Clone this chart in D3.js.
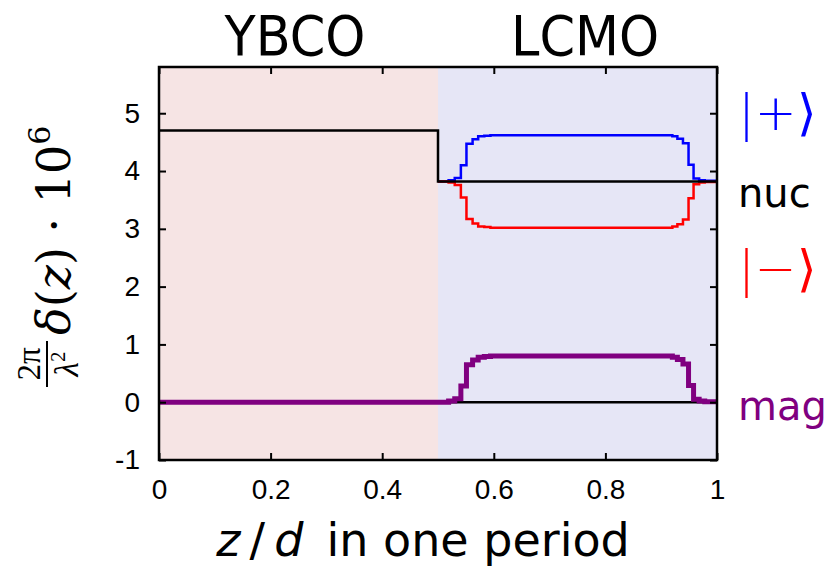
<!DOCTYPE html>
<html><head><meta charset="utf-8">
<script src="https://cdn.jsdelivr.net/npm/d3@7/dist/d3.min.js"></script>
<style>body{margin:0;background:#fff}svg{display:block}</style>
</head><body>
<svg id="c" width="834" height="571"></svg>
<script>
// ---- data ----
const regions = [
  {name: "YBCO", from: 0, to: 0.5, color: "#f6e4e4"},
  {name: "LCMO", from: 0.5, to: 1, color: "#e6e6f6"}
];
const nucEdges = [0, 0.5, 1];
const nucValues = [4.7, 3.82];
const magEdges = [0.5, 0.519, 0.530, 0.541, 0.551, 0.562, 0.572, 0.583, 0.594, 0.920, 0.929, 0.939, 0.949, 0.958, 0.968, 0.978, 1.0];
const magValues = [0, 0.02, 0.06, 0.28, 0.65, 0.73, 0.78, 0.79, 0.80, 0.78, 0.74, 0.66, 0.29, 0.05, 0.02, 0.01];
const xTicks = [0, 0.2, 0.4, 0.6, 0.8, 1];
const xTickLabels = ["0", "0.2", "0.4", "0.6", "0.8", "1"];
const yTicks = [-1, 0, 1, 2, 3, 4, 5];
const yTickLabels = ["-1", "0", "1", "2", "3", "4", "5"];
const legendItems = [
  {label: "|+\u27E9", value: 4.95, color: "#0000ff", size: 50},
  {label: "nuc", value: 3.62, color: "#000000", size: 40},
  {label: "|\u2212\u27E9", value: 2.25, color: "#ff0000", size: 50},
  {label: "mag", value: -0.07, color: "#800080", size: 40}
];

// ---- layout ----
const L = 159, R = 717, T = 67, B = 460;
const svg = d3.select("#c");
const x = d3.scaleLinear().domain([0, 1]).range([L, R]);
const y = d3.scaleLinear().domain([-1, 5.8]).range([B, T]);

// backgrounds
svg.selectAll("rect.bg").data(regions).enter().append("rect")
  .attr("x", d => x(d.from)).attr("y", T)
  .attr("width", d => x(d.to) - x(d.from)).attr("height", B - T)
  .attr("fill", d => d.color);

// step helper
function steps(edges, vals, f) {
  const pts = [];
  vals.forEach((v, i) => {
    const zm = (edges[i] + edges[i + 1]) / 2;
    pts.push([edges[i], f(v, zm)]);
    pts.push([edges[i + 1], f(v, zm)]);
  });
  return pts;
}
function nucAt(z) {
  for (let i = 0; i < nucValues.length; i++) if (z >= nucEdges[i] && z <= nucEdges[i + 1]) return nucValues[i];
  return nucValues[nucValues.length - 1];
}
const line = d3.line().x(d => x(d[0])).y(d => y(d[1]));

// zero line
svg.append("path").attr("d", line([[0, 0], [1, 0]]))
  .attr("fill", "none").attr("stroke", "#000").attr("stroke-width", 2.5);

// magnetic
const magPts = [[0, 0]].concat(steps(magEdges, magValues, v => v));
svg.append("path").attr("d", line(magPts))
  .attr("fill", "none").attr("stroke", "#800080").attr("stroke-width", 5);

// |+> and |->
svg.append("path").attr("d", line(steps(magEdges, magValues, (v, z) => nucAt(z) + v)))
  .attr("fill", "none").attr("stroke", "#0000ff").attr("stroke-width", 2.5);
svg.append("path").attr("d", line(steps(magEdges, magValues, (v, z) => nucAt(z) - v)))
  .attr("fill", "none").attr("stroke", "#ff0000").attr("stroke-width", 2.5);

// nuclear
svg.append("path").attr("d", line(steps(nucEdges, nucValues, v => v)))
  .attr("fill", "none").attr("stroke", "#000").attr("stroke-width", 2.5);

// frame
svg.append("rect").attr("x", L).attr("y", T).attr("width", R - L).attr("height", B - T)
  .attr("fill", "none").attr("stroke", "#000").attr("stroke-width", 2.5);

// axes (ticks inside, mirrored)
const tl = 7;
const fontTick = "'Liberation Sans', Arial, sans-serif";
const xb = svg.append("g").attr("transform", `translate(0,${B})`)
  .call(d3.axisBottom(x).tickValues(xTicks).tickSize(-tl).tickPadding(19)
    .tickFormat((d, i) => xTickLabels[i]));
const xt = svg.append("g").attr("transform", `translate(0,${T})`)
  .call(d3.axisTop(x).tickValues(xTicks).tickSize(-tl).tickFormat(""));
const yl = svg.append("g").attr("transform", `translate(${L},0)`)
  .call(d3.axisLeft(y).tickValues(yTicks).tickSize(-tl).tickPadding(19)
    .tickFormat((d, i) => yTickLabels[i]));
const yr = svg.append("g").attr("transform", `translate(${R},0)`)
  .call(d3.axisRight(y).tickValues(yTicks).tickSize(-tl).tickFormat(""));
[xb, xt, yl, yr].forEach(g => {
  g.select(".domain").remove();
  g.selectAll(".tick line").attr("stroke", "#000").attr("stroke-width", 2);
  g.selectAll("text").attr("font-family", fontTick).attr("font-size", 28).attr("fill", "#000");
});

// region titles
const fontTitle = "'DejaVu Sans', sans-serif";
const titleX = {YBCO: 295, LCMO: 585};
svg.selectAll("text.rt").data(regions).enter().append("text")
  .attr("x", 0).attr("y", 55).attr("text-anchor", "middle")
  .attr("font-family", fontTitle).attr("font-size", 56)
  .attr("transform", d => `translate(${titleX[d.name]},0) scale(0.91,1)`)
  .text(d => d.name);

// legend labels on the right
svg.selectAll("text.lg").data(legendItems).enter().append("text")
  .attr("x", 738).attr("y", d => y(d.value) + 14)
  .attr("font-family", fontTitle).attr("font-size", d => d.size)
  .attr("font-weight", d => d.size > 45 ? 200 : 400)
  .attr("fill", d => d.color)
  .text(d => d.label);

// x label
const xl = svg.append("text").attr("x", 423).attr("y", 556).attr("text-anchor", "middle")
  .attr("font-family", fontTitle).attr("font-size", 46);
xl.append("tspan").attr("font-style", "italic").text("z");
xl.append("tspan").text("\u2009/\u2009");
xl.append("tspan").attr("font-style", "italic").text("d");
xl.append("tspan").text("\u2002in one period");

// y label (rotated)
const g = svg.append("g").attr("transform", "rotate(-90)");
const serif = "'DejaVu Serif', 'Liberation Serif', serif";
g.append("text").attr("x", -364).attr("y", 40).attr("text-anchor", "middle")
  .attr("font-family", "'Liberation Serif', serif").attr("font-size", 33).text("2\u03C0");
g.append("line").attr("x1", -387).attr("x2", -341).attr("y1", 47).attr("y2", 47)
  .attr("stroke", "#000").attr("stroke-width", 2);
const den = g.append("text").attr("x", -364).attr("y", 78).attr("text-anchor", "middle")
  .attr("font-family", "'Liberation Serif', serif").attr("font-size", 33);
den.append("tspan").attr("font-style", "italic").text("\u03BB");
den.append("tspan").attr("font-size", 21).attr("dy", -13).text("2");
const main = g.append("text").attr("x", -335).attr("y", 70)
  .attr("font-family", serif).attr("font-size", 46);
main.append("tspan").attr("font-style", "italic").text("\u03B4");
main.append("tspan").text("(");
main.append("tspan").attr("font-style", "italic").text("z");
main.append("tspan").text(") \u00B7 10");
main.append("tspan").attr("font-size", 30).attr("dy", -20).text("6");
</script>
</body></html>
